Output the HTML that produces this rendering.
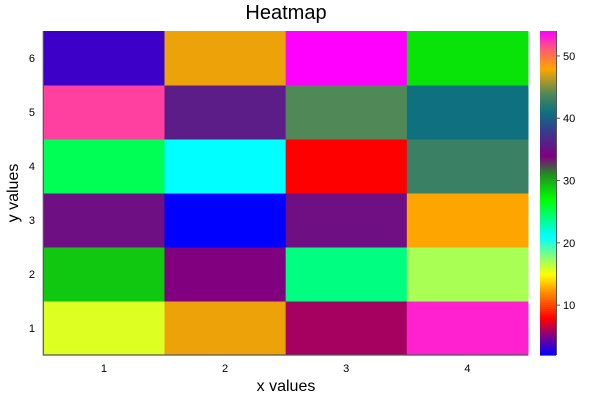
<!DOCTYPE html>
<html><head><meta charset="utf-8"><style>
html,body{margin:0;padding:0;background:#fff;}
svg text{font-family:"Liberation Sans","DejaVu Sans",sans-serif;fill:#000;}
</style></head><body>
<svg id="chart" width="600" height="400" viewBox="0 0 600 400" xmlns="http://www.w3.org/2000/svg">
<text x="286" y="19" font-size="20" text-anchor="middle">Heatmap</text>
<text x="286" y="391" font-size="16" text-anchor="middle">x values</text>
<text x="18" y="193" font-size="16" text-anchor="middle" transform="rotate(-90 18 193)">y values</text>
<g id="cells"></g>
<g id="axes"></g>
<g id="cbar"></g>
</svg>
<script>
const xCategories = [1, 2, 3, 4];
const yCategories = [1, 2, 3, 4, 5, 6];
// gridValues[row][col], row 0 = y=1 (bottom)
const gridValues = [
  [15.8, 47.6, 6, 53],
  [29, 34, 24, 17],
  [35, 2, 35, 48],
  [25, 21, 8, 43],
  [52, 36, 44, 41],
  [3.5, 47.6, 54, 28]
];
const colorbarTicks = [10, 20, 30, 40, 50];
const cMin = 2, cMax = 54;
const cmapVals = [2, 5, 8, 12, 15, 21, 27, 31, 34, 38, 41, 44, 48, 51, 54];
const cmapCols = ['#0000ff','#7a0090','#ff0000','#ff8800','#ffff00','#00ffff','#00ff00','#209020','#800080','#3a3a90','#0f7080','#508858','#ffa500','#ff6070','#ff00ff'];

const NS = 'http://www.w3.org/2000/svg';
const L = 43.3, R = 528, T = 31, B = 355;
const xScale = i => L + (R - L) * i / xCategories.length;
const yScale = j => B - (B - T) * j / yCategories.length;
const cbL = 540, cbR = 556;
const cScale = v => B - (B - T) * (v - cMin) / (cMax - cMin);

function hex(h){return [1,3,5].map(k=>parseInt(h.substr(k,2),16));}
function colorFor(v){
  if (v <= cmapVals[0]) return cmapCols[0];
  for (let k = 1; k < cmapVals.length; k++) {
    if (v <= cmapVals[k]) {
      const t = (v - cmapVals[k-1]) / (cmapVals[k] - cmapVals[k-1]);
      const a = hex(cmapCols[k-1]), b = hex(cmapCols[k]);
      return 'rgb(' + a.map((x,i)=>Math.round(x + (b[i]-x)*t)).join(',') + ')';
    }
  }
  return cmapCols[cmapCols.length-1];
}
function mk(tag, attrs, parent){
  const e = document.createElementNS(NS, tag);
  for (const k in attrs) e.setAttribute(k, attrs[k]);
  parent.appendChild(e); return e;
}
const cells = document.getElementById('cells');
gridValues.forEach((row, j) => row.forEach((v, i) => {
  const r = mk('rect', {x: xScale(i), y: yScale(j+1), width: xScale(i+1)-xScale(i)+0.5, height: yScale(j)-yScale(j+1)+0.5, fill: colorFor(v)}, cells);
  
  
}));
const axes = document.getElementById('axes');
const ax = mk('path', {d: `M${L},${T} V${B} H${R}`, stroke: '#555', 'stroke-width': 1.2, fill: 'none'}, axes);


xCategories.forEach((c, i) => {
  const x = (xScale(i) + xScale(i+1)) / 2;
  const t = mk('text', {x: x, y: 372, 'font-size': 11, 'text-anchor': 'middle'}, axes);
  t.textContent = c;
  
  
});
yCategories.forEach((c, j) => {
  const y = (yScale(j) + yScale(j+1)) / 2;
  const t = mk('text', {x: 35, y: y + 4, 'font-size': 11, 'text-anchor': 'end'}, axes);
  t.textContent = c;
  
  
});
const cbar = document.getElementById('cbar');
const steps = 160;
for (let s = 0; s < steps; s++) {
  const v0 = cMin + (cMax - cMin) * s / steps, v1 = cMin + (cMax - cMin) * (s + 1) / steps;
  const r = mk('rect', {x: cbL, y: cScale(v1), width: cbR - cbL, height: cScale(v0) - cScale(v1) + 0.6, fill: colorFor((v0 + v1) / 2)}, cbar);
  
  
}
const cbLine = mk('line', {x1: cbR + 0.5, y1: T, x2: cbR + 0.5, y2: B, stroke: '#555', 'stroke-width': 1}, cbar);


colorbarTicks.forEach(v => {
  const y = cScale(v);
  const tk = mk('line', {x1: cbR, y1: y, x2: cbR + 4, y2: y, stroke: '#555'}, cbar);
  
  
  const t = mk('text', {x: cbR + 7, y: y + 4, 'font-size': 11}, cbar);
  t.textContent = v;
  
  
});
</script>
</body></html>
